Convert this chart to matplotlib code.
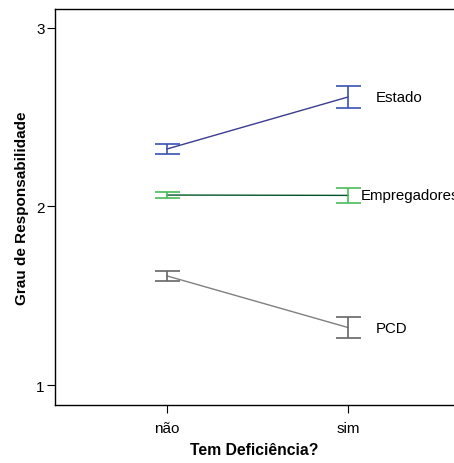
import matplotlib
matplotlib.use("Agg")
import matplotlib.pyplot as plt

plt.rcParams['font.family'] = ['Liberation Sans', 'DejaVu Sans']

groups = ['não', 'sim']
series = ['Estado', 'Empregadores', 'PCD']
means = {
    'Estado': [2.322, 2.613],
    'Empregadores': [2.064, 2.062],
    'PCD': [1.611, 1.322],
}
errors = {
    'Estado': [0.028, 0.063],
    'Empregadores': [0.019, 0.042],
    'PCD': [0.030, 0.061],
}

line_colors = {'Estado': '#3b3b8f', 'Empregadores': '#00552a', 'PCD': '#808080'}
bar_colors = {'Estado': '#3a52b5', 'Empregadores': '#4cbb5a', 'PCD': '#666666'}
label_offsets = {'Estado': 0.155, 'Empregadores': 0.07, 'PCD': 0.155}

fig = plt.figure(figsize=(4.54, 4.64), dpi=100)
ax = fig.add_axes([55 / 454, 58 / 464, 1 - 55 / 454, 396 / 464])

x = list(range(len(groups)))
for name in series:
    ax.plot(x, means[name], color=line_colors[name], linewidth=1)
    ax.errorbar(x, means[name], yerr=errors[name], fmt='none',
                ecolor=bar_colors[name], elinewidth=1.2, capsize=9,
                capthick=1.2)
    ax.text(x[-1] + label_offsets[name], means[name][-1], name,
            va='center', ha='left', fontsize=10.8)

ax.set_xlim(-0.619, 1.586)
ax.set_ylim(0.888, 3.106)
ax.set_xticks(x)
ax.set_xticklabels(groups, fontsize=11)
ax.set_yticks([1, 2, 3])
ax.set_yticklabels(['1', '2', '3'], fontsize=11)
ax.tick_params(axis='x', length=5.5, width=0.8, color='black', pad=6)
ax.tick_params(axis='y', length=5.5, width=0.8, color='black', pad=2)
ax.spines['right'].set_visible(False)
for s in ['left', 'top', 'bottom']:
    ax.spines[s].set_linewidth(1)

ax.set_xlabel('Tem Deficiência?', fontweight='bold', fontsize=11.3, labelpad=5)
ax.set_ylabel('Grau de Responsabilidade', fontweight='bold', fontsize=11,
              labelpad=5)

fig.savefig('out.png', dpi=100)
